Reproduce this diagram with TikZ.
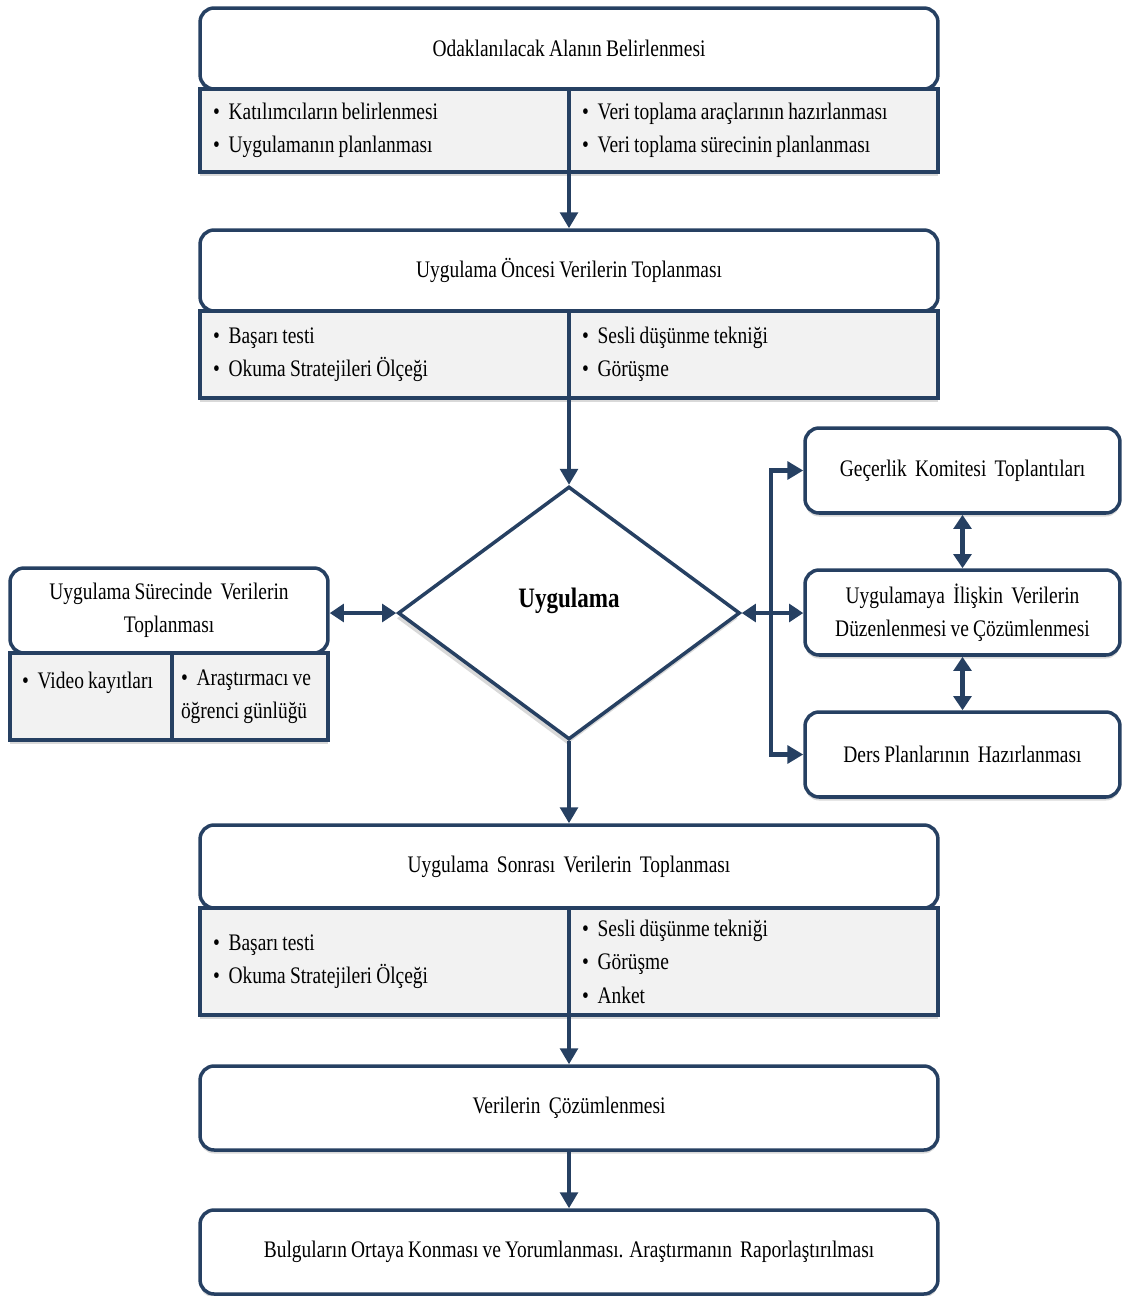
\documentclass[tikz,border=0pt]{standalone}
\usepackage{fontspec}
\setmainfont{Liberation Serif}[FakeStretch=0.82, WordSpace=0.85]
\usetikzlibrary{shapes.geometric, arrows.meta, positioning, shadows}
\definecolor{flownavy}{RGB}{38, 64, 98}
\definecolor{cellgrey}{RGB}{242, 242, 242}
\newcommand{\bitem}[1]{\textbullet\hspace{5pt}#1}
\tikzset{
  headbox/.style={draw=flownavy, line width=2pt, rounded corners=8pt, fill=white,
    align=center, inner sep=0pt,
    drop shadow={opacity=0.3, shadow xshift=0pt, shadow yshift=-2pt}},
  cellbox/.style={draw=flownavy, line width=2pt, fill=cellgrey, align=flush left, inner sep=0pt,
    drop shadow={opacity=0.3, shadow xshift=0pt, shadow yshift=-2pt}},
  flowarr/.style={draw=flownavy, line width=2pt, -{Triangle[width=10pt, length=9pt]}},
  duoarr/.style={draw=flownavy, line width=2.6pt,
    {Triangle[width=10pt, length=8pt]}-{Triangle[width=10pt, length=8pt]}}
}
\begin{document}
\begin{tikzpicture}[x=0.02cm, y=-0.02cm, font=\fontsize{13.5}{19}\selectfont]
  \useasboundingbox (0,0) rectangle (1122,1296);

  % Step 1
  \node[headbox, minimum width=14.76cm, minimum height=1.62cm] (odak) at (569,48.5)
    {Odaklanılacak Alanın Belirlenmesi};
  \node[cellbox, minimum width=7.38cm, minimum height=1.66cm, text width=6.86cm] (odakL) at (384.5,130.5)
    {\bitem{Katılımcıların belirlenmesi}\\\bitem{Uygulamanın planlanması}};
  \node[cellbox, minimum width=7.38cm, minimum height=1.66cm, text width=6.86cm] (odakR) at (753.5,130.5)
    {\bitem{Veri toplama araçlarının hazırlanması}\\\bitem{Veri toplama sürecinin planlanması}};

  % Step 2
  \node[headbox, minimum width=14.76cm, minimum height=1.62cm] (once) at (569,270.5)
    {Uygulama Öncesi Verilerin Toplanması};
  \node[cellbox, minimum width=7.38cm, minimum height=1.74cm, text width=6.86cm] (onceL) at (384.5,354.5)
    {\bitem{Başarı testi}\\\bitem{Okuma Stratejileri Ölçeği}};
  \node[cellbox, minimum width=7.38cm, minimum height=1.74cm, text width=6.86cm] (onceR) at (753.5,354.5)
    {\bitem{Sesli düşünme tekniği}\\\bitem{Görüşme}};

  % Uygulama
  \node[diamond, draw=flownavy, line width=2pt, fill=white, inner sep=0pt,
    minimum width=6.84cm, minimum height=5.06cm, text depth=0.6cm,
    drop shadow={opacity=0.3, shadow xshift=-1pt, shadow yshift=-3pt},
    font=\bfseries\fontsize{16}{18}\selectfont] (uyg) at (569,613) {Uygulama};

  % Left side
  \node[headbox, minimum width=6.36cm, minimum height=1.7cm] (surec) at (169,610.5)
    {Uygulama Sürecinde\ \ Verilerin\\Toplanması};
  \node[cellbox, minimum width=3.24cm, minimum height=1.74cm, text width=2.76cm] (surecL) at (91,696.5)
    {\bitem{Video kayıtları}\\\mbox{}};
  \node[cellbox, minimum width=3.12cm, minimum height=1.74cm, text width=2.76cm] (surecR) at (250,696.5)
    {\bitem{Araştırmacı ve}\\öğrenci günlüğü};

  % Right side
  \node[headbox, minimum width=6.3cm, minimum height=1.7cm] (gec) at (962.5,470.5)
    {Geçerlik\ \ Komitesi\ \ Toplantıları};
  \node[headbox, minimum width=6.3cm, minimum height=1.7cm] (duz) at (962.5,612.5)
    {Uygulamaya\ \ İlişkin\ \ Verilerin\\Düzenlenmesi ve Çözümlenmesi};
  \node[headbox, minimum width=6.3cm, minimum height=1.7cm] (ders) at (962.5,754.5)
    {Ders Planlarının\ \ Hazırlanması};

  % Step 3
  \node[headbox, minimum width=14.76cm, minimum height=1.66cm] (sonra) at (569,866.5)
    {Uygulama\ \ Sonrası\ \ Verilerin\ \ Toplanması};
  \node[cellbox, minimum width=7.38cm, minimum height=2.14cm, text width=6.86cm] (sonraL) at (384.5,961.5)
    {\bitem{Başarı testi}\\\bitem{Okuma Stratejileri Ölçeği}};
  \node[cellbox, minimum width=7.38cm, minimum height=2.14cm, text width=6.86cm] (sonraR) at (753.5,961.5)
    {\bitem{Sesli düşünme tekniği}\\\bitem{Görüşme}\\\bitem{Anket}};

  % Last steps
  \node[headbox, minimum width=14.76cm, minimum height=1.68cm] (coz) at (569,1108)
    {Verilerin\ \ Çözümlenmesi};
  \node[headbox, minimum width=14.76cm, minimum height=1.68cm] (bulgu) at (569,1252)
    {Bulguların Ortaya Konması ve Yorumlanması. Araştırmanın\ \ Raporlaştırılması};

  % Main flow
  \draw[flowarr] (odakL.south -| once.north) -- (once.north);
  \draw[flowarr] (onceL.south -| uyg.north) -- (uyg.north);
  \draw[flowarr] (uyg.south) -- (sonra.north);
  \draw[flowarr] (sonraL.south -| coz.north) -- (coz.north);
  \draw[flowarr] (coz.south) -- (bulgu.north);

  % Side links
  \draw[duoarr] (uyg.west) -- (uyg.west -| surec.east);
  \draw[duoarr] (uyg.east) -- (uyg.east -| duz.west);
  \coordinate (bus) at (771,613);
  \draw[flowarr, line width=2.4pt] (bus) |- (gec.west);
  \draw[flowarr, line width=2.4pt] (bus) |- (ders.west);
  \draw[duoarr] (gec.south) -- (duz.north);
  \draw[duoarr] (duz.south) -- (ders.north);
\end{tikzpicture}
\end{document}
